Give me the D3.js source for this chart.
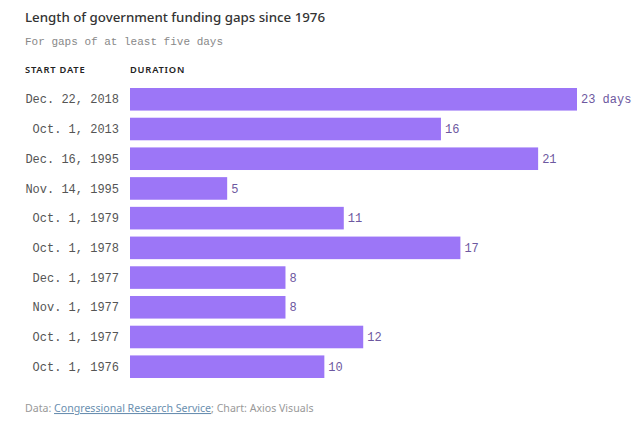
<!DOCTYPE html>
<html><head><meta charset="utf-8">
<script src="https://cdn.jsdelivr.net/npm/d3@7"></script>
<style>body{margin:0;background:#fff;}</style>
</head><body><svg id="c" width="641" height="426"></svg>
<script>
const categories = ["Dec. 22, 2018","Oct. 1, 2013","Dec. 16, 1995","Nov. 14, 1995","Oct. 1, 1979","Oct. 1, 1978","Dec. 1, 1977","Nov. 1, 1977","Oct. 1, 1977","Oct. 1, 1976"];
const durations = [23,16,21,5,11,17,8,8,12,10];
const valueLabels = ["23 days","16","21","5","11","17","8","8","12","10"];

const svg = d3.select("#c");
const mono = "'Liberation Mono','DejaVu Sans Mono',monospace";
const sans = "'Noto Sans','Open Sans',sans-serif";

svg.append("text").attr("x",25).attr("y",22).attr("font-family",sans).attr("font-size",13.3).attr("font-weight",500).attr("fill","#333").text("Length of government funding gaps since 1976");
svg.append("text").attr("x",25).attr("y",45).attr("font-family",mono).attr("font-size",11).attr("fill","#888").text("For gaps of at least five days");
svg.append("text").attr("x",25).attr("y",73).attr("font-family",sans).attr("font-size",9.3).attr("font-weight",600).attr("letter-spacing",0.8).attr("fill","#222").text("START DATE");
svg.append("text").attr("x",130).attr("y",73).attr("font-family",sans).attr("font-size",9.3).attr("font-weight",600).attr("letter-spacing",0.8).attr("fill","#222").text("DURATION");

const x = d3.scaleLinear().domain([0,23]).range([130,577]);
const y = d3.scaleBand().domain(categories).range([88,378]).paddingInner(0.24).paddingOuter(0);

svg.selectAll("rect.bar").data(categories).join("rect").attr("class","bar")
  .attr("x",x(0)).attr("y",d=>y(d)).attr("height",y.bandwidth())
  .attr("width",(d,i)=>x(durations[i])-x(0)).attr("fill","#9c76f7");

svg.selectAll("text.cat").data(categories).join("text").attr("class","cat")
  .attr("x",119).attr("y",d=>y(d)+y.bandwidth()/2).attr("dy","0.35em")
  .attr("text-anchor","end").attr("font-family",mono).attr("font-size",12).attr("fill","#555").text(d=>d);

svg.selectAll("text.val").data(categories).join("text").attr("class","val")
  .attr("x",(d,i)=>x(durations[i])+4).attr("y",d=>y(d)+y.bandwidth()/2).attr("dy","0.35em")
  .attr("font-family",mono).attr("font-size",12).attr("fill","#6d58a0").text((d,i)=>valueLabels[i]);

const f = svg.append("text").attr("x",25).attr("y",412).attr("font-family",sans).attr("font-size",10.6).attr("fill","#999");
f.append("tspan").text("Data: ");
f.append("tspan").attr("fill","#6a8fb0").attr("text-decoration","underline").text("Congressional Research Service");
f.append("tspan").text("; Chart: Axios Visuals");
</script></body></html>
